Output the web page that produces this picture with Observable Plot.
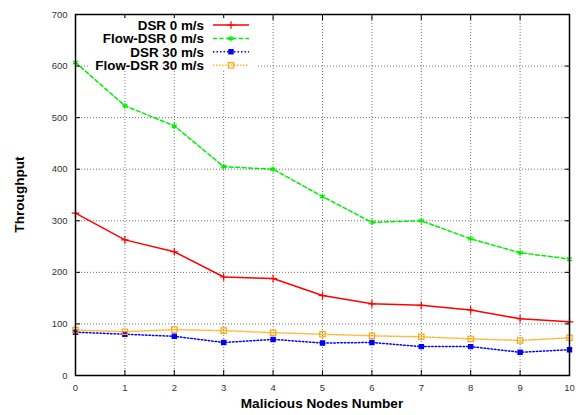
<!DOCTYPE html>
<html><head><meta charset="utf-8">
<script src="https://cdn.jsdelivr.net/npm/d3@7"></script>
<script src="https://cdn.jsdelivr.net/npm/@observablehq/plot@0.6"></script>
<style>body{margin:0;background:#fff}</style>
</head><body><div id="chart"></div>
<script>
const nodes = [0,1,2,3,4,5,6,7,8,9,10];
const dsr0 = [315,263,240,191,188,155,139,136,127,110,104];
const flowDsr0 = [607,523,484,405,400,347,297,300,265,238,226];
const dsr30 = [84,80,76,64,70,63,64,56,56,45,50];
const flowDsr30 = [88,85,89,87,83,80,77,75,71,68,73];
const xTicks = [0,1,2,3,4,5,6,7,8,9,10];
const yTicks = [0,100,200,300,400,500,600,700];
const seriesNames = ["DSR 0 m/s","Flow-DSR 0 m/s","DSR 30 m/s","Flow-DSR 30 m/s"];
const xLabel = "Malicious Nodes Number";
const yLabel = "Throughput";

const styles = [
  {color:"#ff0000", dash:null, symbol:"plus", fill:"none", r:2.6, sw:1.5, op:1},
  {color:"#00ee00", dash:"4,2.5", symbol:"asterisk", fill:"none", r:2.8, sw:1.5, op:1},
  {color:"#0000ff", dash:"1.5,2", symbol:"square", fill:"#0000ff", r:2.4, sw:1.5, op:1},
  {color:"#ffa500", dash:"1.5,1.5", symbol:"square", fill:"none", r:3, sw:1.5, op:0.8}
];
const allSeries = [dsr0, flowDsr0, dsr30, flowDsr30];
const tables = allSeries.map((vals, s) => nodes.map((n, i) => ({x:n, y:vals[i], s:seriesNames[s]})));

const font = "'Liberation Sans', Arial, Helvetica, sans-serif";
const marks = [
  Plot.gridX(xTicks, {stroke:"#000", strokeOpacity:0.55, strokeDasharray:"1,2"}),
  Plot.gridY(yTicks, {stroke:"#000", strokeOpacity:0.55, strokeDasharray:"1,2"}),
];
tables.forEach((t, s) => {
  const st = styles[s];
  marks.push(Plot.line(t, {x:"x", y:"y", stroke:st.color, strokeWidth:st.sw, strokeDasharray:st.dash, strokeOpacity:st.op}));
  marks.push(Plot.dot(t, {x:"x", y:"y", symbol:()=>st.symbol, r:st.r, stroke:st.color, fill:st.fill, strokeWidth:1.2}));
});
marks.push(
  Plot.axisX(xTicks, {anchor:"bottom", tickSize:-5, tickPadding:14, fontSize:9.5, fill:"#333"}),
  Plot.axisX(xTicks, {anchor:"top", tickSize:-5, tickFormat:()=>""}),
  Plot.axisY(yTicks, {anchor:"left", tickSize:-5, tickPadding:13, fontSize:9.5, fill:"#333"}),
  Plot.axisY(yTicks, {anchor:"right", tickSize:-5, tickFormat:()=>""}),
  Plot.frame({stroke:"#000", strokeWidth:1.5})
);

const mL = 75, mR = 15, mT = 14, mB = 40, W = 584, H = 415;
const svg = Plot.plot({
  width: W, height: H,
  marginLeft: mL, marginRight: mR, marginTop: mT, marginBottom: mB,
  style: {fontFamily: font, background: "#fff"},
  x: {domain:[0,10], label:null},
  y: {domain:[0,700], label:null},
  symbol: {type: "identity"},
  marks
});
document.getElementById("chart").append(svg);

const root = d3.select(svg);
// Legend
const lg = root.append("g");
lg.append("rect").attr("x", 90).attr("y", 18).attr("width", 167).attr("height", 53).attr("fill", "#fff");
const symMap = {plus:d3.symbolPlus, asterisk:d3.symbolAsterisk, square:d3.symbolSquare};
seriesNames.forEach((name, i) => {
  const st = styles[i];
  const cy = 25 + i * 13.4;
  lg.append("text").attr("x", 204).attr("y", cy).attr("dy", "0.36em").attr("text-anchor", "end")
    .attr("font-family", font).attr("font-size", 13.4).attr("font-weight", "bold").text(name);
  lg.append("line").attr("x1", 213).attr("x2", 249).attr("y1", cy).attr("y2", cy)
    .attr("stroke", st.color).attr("stroke-width", st.sw).attr("stroke-dasharray", st.dash).attr("stroke-opacity", st.op);
  const area = Math.PI * st.r * st.r;
  lg.append("path").attr("transform", `translate(231,${cy})`).attr("d", d3.symbol(symMap[st.symbol], area)())
    .attr("stroke", st.color).attr("fill", st.fill).attr("stroke-width", 1.2);
});
// Axis titles
root.append("text").attr("x", (mL + W - mR) / 2).attr("y", 408).attr("text-anchor", "middle")
  .attr("font-family", font).attr("font-size", 13.6).attr("font-weight", "bold").text(xLabel);
root.append("text").attr("transform", `translate(24,${(mT + H - mB) / 2}) rotate(-90)`).attr("text-anchor", "middle")
  .attr("font-family", font).attr("font-size", 13.6).attr("font-weight", "bold").text(yLabel);
</script>
</body></html>
